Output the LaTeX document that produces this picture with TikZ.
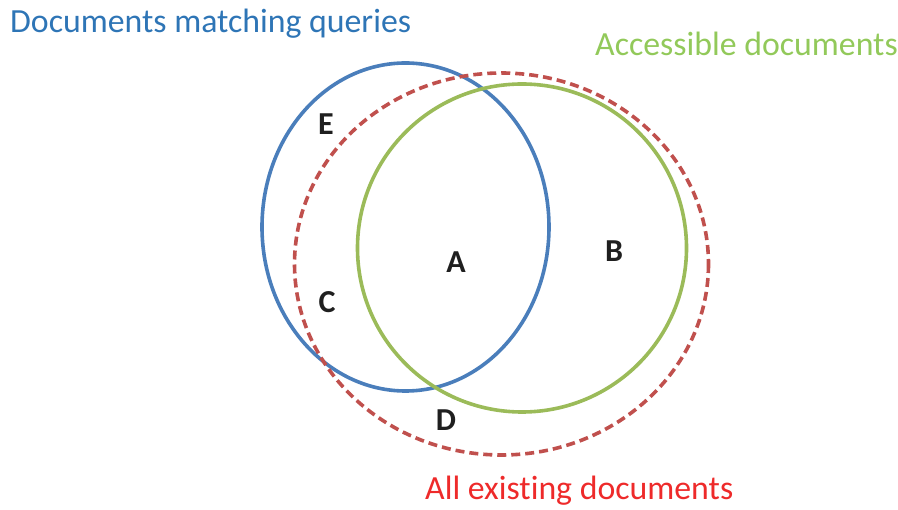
\documentclass[tikz,border=0pt]{standalone}
\usepackage{fontspec}
\setmainfont{Carlito}[Ligatures=CommonOff]
\definecolor{qblue}{HTML}{4A7EBB}
\definecolor{qbluetext}{HTML}{2E75B6}
\definecolor{agreen}{HTML}{9BBB59}
\definecolor{agreentext}{HTML}{92C95A}
\definecolor{ered}{HTML}{C0504D}
\definecolor{eredtext}{HTML}{EE2A2A}
\begin{document}
\begin{tikzpicture}[x=1pt,y=-1pt,
  setline/.style={line width=3.6pt},
  caption/.style={font=\fontsize{33.8}{40}\selectfont, inner sep=0pt, anchor=base west},
  region/.style={font=\fontsize{32}{38}\selectfont\bfseries, text=black!88, inner sep=0pt}]
  \useasboundingbox (0,0) rectangle (898,510);
  % the three sets
  \draw[setline, qblue] (405.5,227) ellipse [x radius=143.5, y radius=164];
  \draw[setline, agreen] (522,248) ellipse [x radius=164.5, y radius=164];
  \draw[setline, ered, dash pattern=on 9pt off 5pt] (501.5,264) ellipse [x radius=207, y radius=191];
  % set captions
  \node[caption, text=qbluetext] (tq) at (10,33) {Documents matching queries};
  \node[caption, text=agreentext] (ta) at (595,56) {Accessible documents};
  \node[caption, text=eredtext] (te) at (425,500) {All existing documents};
  % region letters
  \node[region] (rE) at (326,124) {E};
  \node[region] (rA) at (456,262) {A};
  \node[region] (rB) at (614,251) {B};
  \node[region] (rC) at (327,302) {C};
  \node[region] (rD) at (446,420) {D};
\end{tikzpicture}
\end{document}
